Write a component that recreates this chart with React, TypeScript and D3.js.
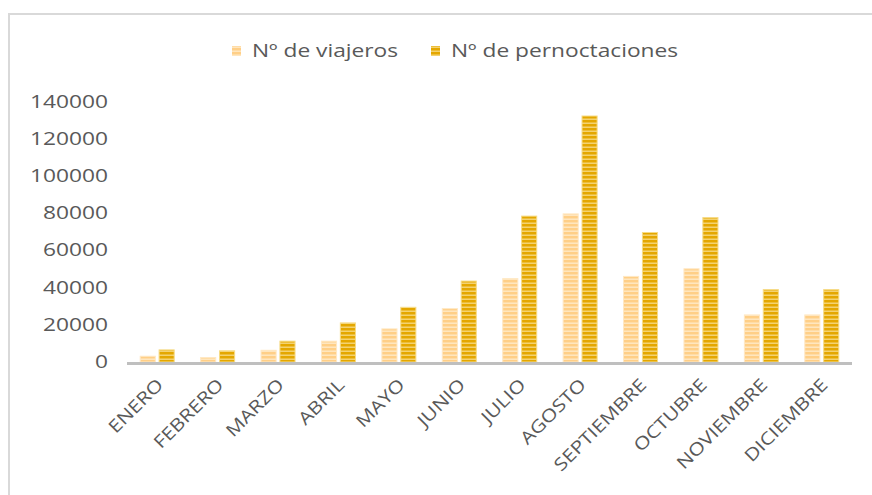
import React, { useEffect, useRef } from 'react'
import * as d3 from 'd3'

const months = ['ENERO','FEBRERO','MARZO','ABRIL','MAYO','JUNIO','JULIO','AGOSTO','SEPTIEMBRE','OCTUBRE','NOVIEMBRE','DICIEMBRE']
const viajeros = [3100, 2400, 6300, 11200, 17800, 28700, 44800, 79600, 46000, 50100, 25300, 25300]
const pernoctaciones = [6500, 6000, 11200, 21000, 29400, 43500, 78400, 132200, 69600, 77600, 38900, 38900]
const seriesNames = ['Nº de viajeros', 'Nº de pernoctaciones']
const yTicks = [0, 20000, 40000, 60000, 80000, 100000, 120000, 140000]

export default function App(){
  const svgRef = useRef<SVGSVGElement>(null)

  useEffect(()=>{
    const width = 872, height = 495
    const svg = d3.select(svgRef.current)
      .attr('width', width).attr('height', height)
    svg.selectAll('*').remove()
    const font = "'Open Sans', 'Segoe UI', sans-serif"
    const fs = 17.5, sx = 1.3   // text in the picture is drawn wide
    const textColor = '#595959'

    // striped fills
    const defs = svg.append('defs')
    const pat = (id:string, dark:string, mid:string, light:string)=>{
      const p = defs.append('pattern').attr('id', id)
        .attr('patternUnits','userSpaceOnUse').attr('width', 4).attr('height', 4)
      p.append('rect').attr('width',4).attr('height',4).attr('fill', dark)
      p.append('rect').attr('y',2).attr('width',4).attr('height',1).attr('fill', mid)
      p.append('rect').attr('y',3).attr('width',4).attr('height',1).attr('fill', light)
    }
    pat('pv', '#FFCF87', '#FFDCA6', '#FFE6BE')
    pat('pp', '#E4A700', '#EDBE3A', '#F3D271')

    // chart frame
    svg.append('rect').attr('x', 9).attr('y', 14).attr('width', 900).attr('height', 600)
      .attr('fill','#fff').attr('stroke','#d9d9d9').attr('stroke-width', 2)

    const x0 = d3.scaleBand().domain(months).range([127, 852]).padding(0)
    const x1 = d3.scaleBand().domain(seriesNames).range([0, 34]).paddingInner(0.2)
    const off = (x0.bandwidth() - 34) / 2
    const y = d3.scaleLinear().domain([0, 140000]).range([362, 101.5])

    // y labels
    svg.append('g').selectAll('text').data(yTicks).join('text')
      .attr('transform', d=>`translate(108,${y(d)}) scale(${sx},1)`)
      .attr('dy','0.35em')
      .attr('text-anchor','end').attr('font-family', font).attr('font-size', fs)
      .attr('fill', textColor).text(d=>String(d))

    const data = months.map((m,i)=>({ m, vals: [viajeros[i], pernoctaciones[i]] }))
    const fills = ['url(#pv)', 'url(#pp)']
    const strokes = ['#FFE8C4', '#F6DB86']

    const g = svg.append('g').selectAll('g').data(data).join('g')
      .attr('transform', d=>`translate(${(x0(d.m) as number) + off},0)`)
    g.selectAll('rect').data(d=>d.vals.map((v,k)=>({ v, k }))).join('rect')
      .attr('x', d=>x1(seriesNames[d.k]) as number)
      .attr('width', x1.bandwidth())
      .attr('y', d=>y(d.v))
      .attr('height', d=>y(0) - y(d.v))
      .attr('fill', d=>fills[d.k])
      .attr('stroke', d=>strokes[d.k]).attr('stroke-width', 1)

    // x axis line
    svg.append('line').attr('x1', 127).attr('x2', 852).attr('y1', y(0)+1.5).attr('y2', y(0)+1.5)
      .attr('stroke','#bfbfbf').attr('stroke-width', 3)

    // x labels
    svg.append('g').selectAll('text').data(months).join('text')
      .attr('transform', d=>`translate(${(x0(d) as number) + x0.bandwidth()/2 + 7},${y(0)+24}) rotate(-45) scale(1.2,1)`)
      .attr('text-anchor','end').attr('font-family', font).attr('font-size', fs)
      .attr('fill', textColor).text(d=>d)

    // legend
    const leg = svg.append('g')
    const legX = [232, 431]
    seriesNames.forEach((s,k)=>{
      leg.append('rect').attr('x', legX[k]).attr('y', 46).attr('width', 9).attr('height', 10)
        .attr('fill', fills[k])
      leg.append('text').attr('transform', `translate(${legX[k] + 20},51) scale(${sx},1)`)
        .attr('dy','0.35em')
        .attr('font-family', font).attr('font-size', fs).attr('fill', textColor).text(s)
    })
  },[])

  return (
    <svg ref={svgRef} style={{position:'absolute', left:0, top:0}}></svg>
  )
}
